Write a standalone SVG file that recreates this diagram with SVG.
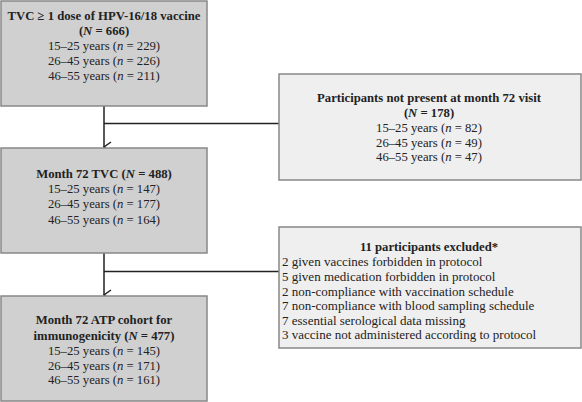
<svg xmlns="http://www.w3.org/2000/svg" width="582" height="402" viewBox="0 0 582 402">
<defs>
<marker id="arr" markerWidth="12" markerHeight="12" refX="6" refY="10" orient="auto-start-reverse" markerUnits="userSpaceOnUse" viewBox="0 0 12 12">
<path d="M1,3 L6,10 L11,3" fill="none" stroke="#222" stroke-width="1.5"/>
</marker>
</defs>
<style>
text{font-family:"Liberation Serif","Times New Roman",serif;font-size:12.7px;fill:#222}
.c{text-anchor:middle}
.b{font-weight:bold}
.l{font-size:13px}
.main{fill:#d0d0d0;stroke:#888;stroke-width:1.5}
.side{fill:#efefef;stroke:#888;stroke-width:1.5}
.ln{stroke:#222;stroke-width:1.5;fill:none}
</style>
<rect width="582" height="402" fill="#fff"/>
<g id="connectors">
<line class="ln" x1="104" y1="106" x2="104" y2="147" marker-end="url(#arr)"/>
<line class="ln" x1="104" y1="123.5" x2="279" y2="123.5"/>
<line class="ln" x1="104" y1="253" x2="104" y2="295" marker-end="url(#arr)"/>
<line class="ln" x1="104" y1="271.5" x2="279" y2="271.5"/>
</g>
<g id="n1">
<rect class="main" x="1" y="1" width="206" height="105"/>
<text class="c b" x="104" y="20">TVC ≥ 1 dose of HPV-16/18 vaccine</text>
<text class="c b" x="104" y="35">(<tspan font-style="italic">N</tspan> = 666)</text>
<text class="c" x="104" y="50">15–25 years (<tspan font-style="italic">n</tspan> = 229)</text>
<text class="c" x="104" y="65">26–45 years (<tspan font-style="italic">n</tspan> = 226)</text>
<text class="c" x="104" y="80">46–55 years (<tspan font-style="italic">n</tspan> = 211)</text>
</g>
<g id="n2">
<rect class="main" x="1" y="148" width="206" height="105"/>
<text class="c b" x="104" y="178">Month 72 TVC (<tspan font-style="italic">N</tspan> = 488)</text>
<text class="c" x="104" y="193">15–25 years (<tspan font-style="italic">n</tspan> = 147)</text>
<text class="c" x="104" y="208">26–45 years (<tspan font-style="italic">n</tspan> = 177)</text>
<text class="c" x="104" y="223.5">46–55 years (<tspan font-style="italic">n</tspan> = 164)</text>
</g>
<g id="n3">
<rect class="main" x="1" y="296" width="206" height="105"/>
<text class="c b" x="104" y="324">Month 72 ATP cohort for</text>
<text class="c b" x="104" y="339.5">immunogenicity (<tspan font-style="italic">N</tspan> = 477)</text>
<text class="c" x="104" y="354.5">15–25 years (<tspan font-style="italic">n</tspan> = 145)</text>
<text class="c" x="104" y="369.5">26–45 years (<tspan font-style="italic">n</tspan> = 171)</text>
<text class="c" x="104" y="384">46–55 years (<tspan font-style="italic">n</tspan> = 161)</text>
</g>
<g id="n4">
<rect class="side" x="279" y="74" width="302" height="106"/>
<text class="c b" x="429" y="102">Participants not present at month 72 visit</text>
<text class="c b" x="429" y="117">(<tspan font-style="italic">N</tspan> = 178)</text>
<text class="c" x="429" y="131.5">15–25 years (<tspan font-style="italic">n</tspan> = 82)</text>
<text class="c" x="429" y="146.5">26–45 years (<tspan font-style="italic">n</tspan> = 49)</text>
<text class="c" x="429" y="161">46–55 years (<tspan font-style="italic">n</tspan> = 47)</text>
</g>
<g id="n5">
<rect class="side" x="279" y="227" width="302" height="121"/>
<text class="c b" x="429" y="251">11 participants excluded*</text>
<text class="l" x="282" y="266">2 given vaccines forbidden in protocol</text>
<text class="l" x="282" y="281">5 given medication forbidden in protocol</text>
<text class="l" x="282" y="295.5">2 non-compliance with vaccination schedule</text>
<text class="l" x="282" y="310">7 non-compliance with blood sampling schedule</text>
<text class="l" x="282" y="324.5">7 essential serological data missing</text>
<text class="l" x="282" y="339">3 vaccine not administered according to protocol</text>
</g>
</svg>
